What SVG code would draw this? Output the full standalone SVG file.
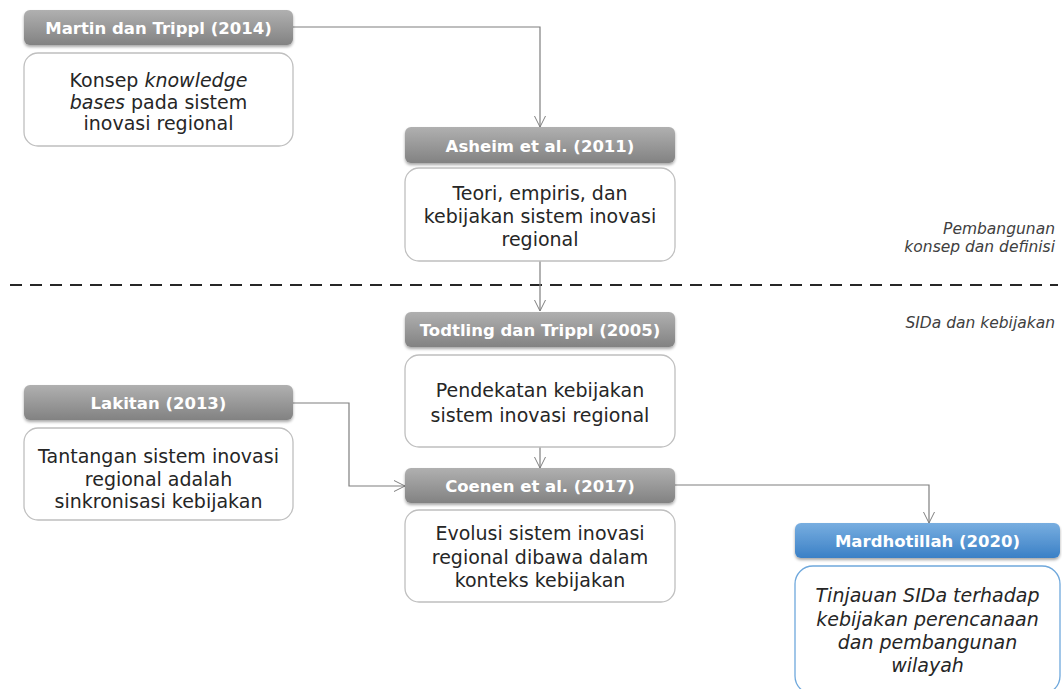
<svg xmlns="http://www.w3.org/2000/svg" width="1062" height="689" viewBox="0 0 1062 689">
<defs>
<linearGradient id="gHead" x1="0" y1="0" x2="0" y2="1">
<stop offset="0" stop-color="#b0b0b0"/>
<stop offset="1" stop-color="#828282"/>
</linearGradient>
<linearGradient id="gBlue" x1="0" y1="0" x2="0" y2="1">
<stop offset="0" stop-color="#78aee0"/>
<stop offset="1" stop-color="#3b80c6"/>
</linearGradient>
<filter id="sh" x="-5%" y="-20%" width="110%" height="150%">
<feGaussianBlur in="SourceAlpha" stdDeviation="1.5"/>
<feOffset dx="0" dy="2" result="b"/>
<feComponentTransfer><feFuncA type="linear" slope="0.35"/></feComponentTransfer>
<feMerge><feMergeNode/><feMergeNode in="SourceGraphic"/></feMerge>
</filter>
<marker id="arr" markerWidth="14" markerHeight="14" refX="12" refY="7" orient="auto" markerUnits="userSpaceOnUse">
<path d="M1,1.5 L12,7 L1,12.5" fill="none" stroke="#7f7f7f" stroke-width="1"/>
</marker>
</defs>
<style>
.head{fill:url(#gHead);filter:url(#sh)}
.headB{fill:url(#gBlue);filter:url(#sh)}
.body{fill:#ffffff;stroke:#bfbfbf;stroke-width:1.3}
.bodyB{fill:#ffffff;stroke:#6fa8dc;stroke-width:1.3}
.ht{font-family:"DejaVu Sans",sans-serif;font-weight:bold;font-size:16.5px;fill:#ffffff;text-anchor:middle}
.bt{font-family:"DejaVu Sans",sans-serif;font-size:19px;fill:#262626;text-anchor:middle}
.it{font-style:italic}
.lab{font-family:"DejaVu Sans",sans-serif;font-style:italic;font-size:15.5px;fill:#404040;text-anchor:end}
.con{fill:none;stroke:#7f7f7f;stroke-width:1.2}
</style>
<rect width="1062" height="689" fill="#ffffff"/>

<g id="divider">
<line x1="10" y1="285" x2="1058" y2="285" stroke="#262626" stroke-width="2" stroke-dasharray="12 8"/>
<text class="lab" x="1055" y="234">Pembangunan</text>
<text class="lab" x="1055" y="252">konsep dan definisi</text>
<text class="lab" x="1055" y="328">SIDa dan kebijakan</text>
</g>

<g id="connectors">
<path class="con" d="M293,27 H540 V127" marker-end="url(#arr)"/>
<path class="con" d="M540,261 V311" marker-end="url(#arr)"/>
<path class="con" d="M540,447 V468" marker-end="url(#arr)"/>
<path class="con" d="M293,403 H349 V486 H405" marker-end="url(#arr)"/>
<path class="con" d="M675,485 H929 V523" marker-end="url(#arr)"/>
</g>

<g id="martin">
<rect class="head" x="24" y="10" width="269" height="35" rx="6"/>
<text class="ht" x="158.5" y="33.5">Martin dan Trippl (2014)</text>
<rect class="body" x="24" y="53" width="269" height="93" rx="14"/>
<text class="bt" x="158.5" y="87">Konsep <tspan class="it">knowledge</tspan></text>
<text class="bt" x="158.5" y="108.5"><tspan class="it">bases</tspan> pada sistem</text>
<text class="bt" x="158.5" y="130">inovasi regional</text>
</g>

<g id="asheim">
<rect class="head" x="405" y="127" width="270" height="36" rx="6"/>
<text class="ht" x="540" y="151.5">Asheim et al. (2011)</text>
<rect class="body" x="405" y="168" width="270" height="93" rx="14"/>
<text class="bt" x="540" y="200">Teori, empiris, dan</text>
<text class="bt" x="540" y="223">kebijakan sistem inovasi</text>
<text class="bt" x="540" y="246">regional</text>
</g>

<g id="todtling">
<rect class="head" x="405" y="312" width="270" height="35" rx="6"/>
<text class="ht" x="540" y="335.5">Todtling dan Trippl (2005)</text>
<rect class="body" x="405" y="355" width="270" height="92" rx="14"/>
<text class="bt" x="540" y="397">Pendekatan kebijakan</text>
<text class="bt" x="540" y="422">sistem inovasi regional</text>
</g>

<g id="lakitan">
<rect class="head" x="24" y="385" width="269" height="35" rx="6"/>
<text class="ht" x="158.5" y="408.5">Lakitan (2013)</text>
<rect class="body" x="24" y="428" width="269" height="92" rx="14"/>
<text class="bt" x="158.5" y="463">Tantangan sistem inovasi</text>
<text class="bt" x="158.5" y="486">regional adalah</text>
<text class="bt" x="158.5" y="508">sinkronisasi kebijakan</text>
</g>

<g id="coenen">
<rect class="head" x="405" y="468" width="270" height="35" rx="6"/>
<text class="ht" x="540" y="491.5">Coenen et al. (2017)</text>
<rect class="body" x="405" y="510" width="270" height="92" rx="14"/>
<text class="bt" x="540" y="540">Evolusi sistem inovasi</text>
<text class="bt" x="540" y="564">regional dibawa dalam</text>
<text class="bt" x="540" y="587">konteks kebijakan</text>
</g>

<g id="mardhotillah">
<rect class="headB" x="795" y="523" width="265" height="35" rx="6"/>
<text class="ht" x="927.5" y="546.5">Mardhotillah (2020)</text>
<rect class="bodyB" x="795" y="566" width="265" height="128" rx="18"/>
<text class="bt it" x="927.5" y="602">Tinjauan SIDa terhadap</text>
<text class="bt it" x="927.5" y="626">kebijakan perencanaan</text>
<text class="bt it" x="927.5" y="649">dan pembangunan</text>
<text class="bt it" x="927.5" y="672">wilayah</text>
</g>
</svg>
